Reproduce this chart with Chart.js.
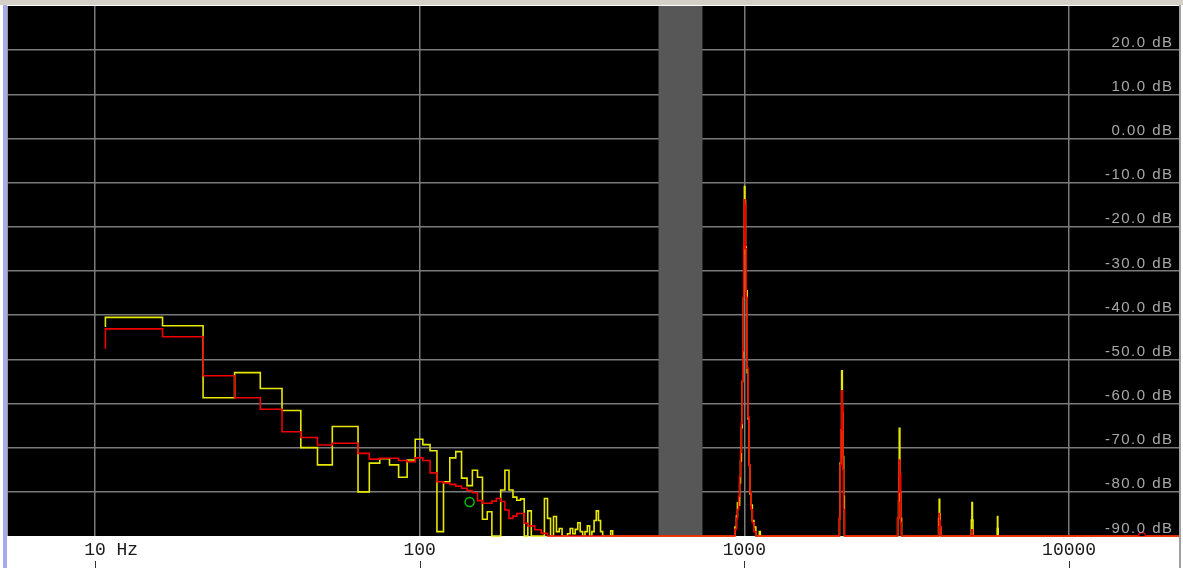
<!DOCTYPE html>
<html>
<head>
<meta charset="utf-8">
<script src="https://cdn.jsdelivr.net/npm/chart.js@4/dist/chart.umd.min.js"></script>
<style>
  html, body { margin: 0; padding: 0; background: #fff; overflow: hidden; }
  #wrap { position: relative; width: 1183px; height: 568px; }
  #topbar { position: absolute; left: 0; top: 0; width: 1183px; height: 5px; background: #d4d0c8; }
  #leftbar { position: absolute; left: 3px; top: 5px; width: 4px; height: 563px; background: #a8a8ee; }
  #rightbar { position: absolute; left: 1179px; top: 5px; width: 2px; height: 563px; background: #a0a0a0; z-index: 2; }
  #spectrum { position: absolute; left: 0; top: 0; z-index: 1; }
</style>
</head>
<body>
<div id="wrap">
  <div id="topbar"></div>
  <div id="leftbar"></div>
  <canvas id="spectrum" width="1183" height="568"></canvas>
  <div id="rightbar"></div>
</div>
<script>
// axis range (Hz / dB)
const xMinHz = 5.383;
const xMaxHz = 22050;
const yMinDb = -90;
const yMaxDb = 30;

// grid / tick labels
const xTickHz = [10, 100, 1000, 10000];
const xTickLabels = ['10 Hz', '100', '1000', '10000'];
const yGridDb = [30, 20, 10, 0, -10, -20, -30, -40, -50, -60, -70, -80, -90];
const yTickDb = [20, 10, 0, -10, -20, -30, -40, -50, -60, -70, -80, -90];
const yTickLabels = ['20.0 dB', '10.0 dB', '0.00 dB', '-10.0 dB', '-20.0 dB', '-30.0 dB',
  '-40.0 dB', '-50.0 dB', '-60.0 dB', '-70.0 dB', '-80.0 dB', '-90.0 dB'];

// shaded band
const bandHz = [544, 743];

// low frequency FFT bins (left edge of each bin)
const lowHz = [10.77, 10.77, 16.15, 21.53, 26.92, 32.30, 37.68, 43.06, 48.45, 53.83, 59.21,
  64.60, 69.98, 75.36, 80.75, 86.13, 91.51, 96.89, 102.28, 107.66, 113.04, 118.43, 123.81,
  129.19, 134.58, 139.96, 145.34, 150.72, 156.11, 161.49, 166.87, 172.26, 177.64, 183.02,
  188.41, 193.79, 199.17, 204.55, 209.94, 215.32, 220.70, 226.09, 231.47, 236.85, 242.24,
  247.62, 253.00, 258.38, 263.77, 269.15, 274.53, 279.92, 285.30, 290.68, 296.07, 301.45,
  306.83, 312.21, 317.60, 322.98, 328.36, 333.75, 339.13, 344.51, 349.90, 355.28, 360.66,
  366.04, 371.43, 376.81, 382.19, 387.58, 392.96, 398.34];

const yellowLowDb = [-42.7, -40.5, -42.4, -58.7, -53.0, -56.6, -61.6, -70.0, -73.9, -65.2, -65.2,
  -80.0, -73.5, -72.5, -73.9, -76.7, -72.8, -68.1, -69.3, -70.7, -89.0, -77.7, -72.3,
  -70.9, -76.9, -78.6, -75.1, -76.7, -86.2, -84.5, -90, -90, -79.6, -75.1,
  -79.6, -81.2, -81.9, -81.6, -90, -84.3, -90, -90, -90, -90, -81.5,
  -86, -90, -85.6, -89, -88.3, -90, -90, -89.5, -88.3, -89.5, -88.5,
  -87.0, -89.0, -90, -89, -87.7, -90, -89, -86.5, -84.3, -86.5, -89,
  -90, -90, -90, -90, -88.8, -90, -90];

const redLowDb = [-47.6, -43.1, -44.9, -53.7, -58.7, -61.3, -66.4, -67.7, -69.4, -69.0, -69.0,
  -71.3, -72.6, -72.4, -72.4, -72.9, -73.2, -72.3, -72.9, -75.7, -77.7, -78.0, -78.3,
  -78.7, -79.2, -79.7, -80.2, -82.0, -82.6, -82.6, -82.1, -81.5, -82.2, -84.1,
  -86.0, -85.5, -84.9, -84.9, -87.1, -87.7, -87.7, -88.6, -88.6, -89.4, -89.4,
  -90, -90, -90, -90, -90, -90, -90, -90, -90, -90, -90,
  -90, -90, -90, -90, -90, -90, -90, -90, -90, -90, -90,
  -90, -90, -90, -90, -90, -90, -90];

// harmonics: 1k, 2k, 3k, 4k, 5k, 6k, then floor to the end
const peakHz = [925, 935, 945, 952, 960, 967, 973, 979, 985, 989, 993, 996, 1000, 1004, 1008,
  1013, 1020, 1027, 1034, 1041, 1048, 1058, 1070, 1085, 1112, 1120,
  1950, 1962, 1972, 1982, 1993, 2003, 2012, 2022, 2032,
  2945, 2965, 2985, 2999, 3012, 3030, 3048,
  3950, 3965, 3981, 3995, 4010, 4030,
  4985, 5000, 5020, 5040, 5060,
  5990, 6005, 6018, 6032, 6050,
  22050];

const yellowPeakDb = [-90, -88, -85.5, -82.5, -83, -78, -73, -65.5, -55, -49.5, -36, -26, -10.9, -14, -24.5,
  -34.5, -53, -63.5, -74, -80.5, -83, -86.5, -88, -90, -89, -90,
  -90, -86, -73.5, -66, -52.6, -62, -72, -81, -90,
  -90, -86, -82, -65.6, -80, -86, -90,
  -90, -86, -81.7, -85, -88, -90,
  -90, -86.4, -82.4, -86.4, -90,
  -90, -88.3, -85.6, -88.3, -90,
  -90];

const redPeakDb = [-90, -88.5, -86, -84, -81, -76.5, -71, -64.5, -55, -48, -36, -24, -13.9, -15, -25,
  -36, -52, -63, -74, -80, -84, -87, -89, -90, -90, -90,
  -90, -86, -74, -66, -57.1, -60.5, -75, -84, -90,
  -90, -86, -80, -72.8, -76, -87, -90,
  -90, -88, -84.9, -86.5, -88, -90,
  -90, -90, -88.6, -90, -90,
  -90, -90, -90, -90, -90,
  -90];

// cursor markers
const greenMarker = { hz: 142.5, db: -82.3 };
const redMarker = { hz: 16770, db: -90 };

const toPoints = (xs, ys) => xs.map((x, i) => ({ x: x, y: ys[i] }));

const decor = {
  id: 'decor',
  beforeDraw(chart) {
    const { ctx, chartArea: a } = chart;
    ctx.save();
    ctx.fillStyle = '#000';
    ctx.fillRect(a.left, a.top, a.right - a.left, a.bottom - a.top);
    ctx.restore();
  },
  beforeDatasetsDraw(chart) {
    const { ctx, chartArea: a } = chart;
    const x = chart.scales.x;
    const x0 = x.getPixelForValue(bandHz[0]);
    const x1 = x.getPixelForValue(bandHz[1]);
    ctx.save();
    ctx.fillStyle = '#575757';
    ctx.fillRect(x0, a.top, x1 - x0, a.bottom - a.top);
    ctx.restore();
  },
  afterDraw(chart) {
    const { ctx, chartArea: a } = chart;
    const x = chart.scales.x;
    const y = chart.scales.y;
    ctx.save();
    // dB labels inside the plot, right side, above each grid line
    ctx.font = '15px "Liberation Sans"';
    ctx.letterSpacing = '1.5px';
    ctx.fillStyle = '#a8a8a8';
    ctx.textAlign = 'right';
    ctx.textBaseline = 'alphabetic';
    yTickDb.forEach((v, i) => {
      ctx.fillText(yTickLabels[i], a.right - 7, y.getPixelForValue(v) - 3.5);
    });
    // frequency labels under the plot
    ctx.letterSpacing = '0px';
    ctx.font = '18px "Liberation Mono"';
    ctx.fillStyle = '#1a1a1a';
    ctx.textAlign = 'left';
    ctx.strokeStyle = '#333';
    ctx.lineWidth = 1;
    xTickHz.forEach((v, i) => {
      const px = x.getPixelForValue(v);
      const num = xTickLabels[i].split(' ')[0];
      const w = ctx.measureText(num).width;
      ctx.fillText(xTickLabels[i], px - w / 2, a.bottom + 19);
      ctx.beginPath();
      ctx.moveTo(Math.round(px) + 0.5, a.bottom + 25);
      ctx.lineTo(Math.round(px) + 0.5, a.bottom + 32);
      ctx.stroke();
    });
    ctx.restore();
  }
};

const gridColor = ctx => (ctx.tick && (ctx.tick.value === yMaxDb || ctx.tick.value === yMinDb))
  ? 'rgba(0,0,0,0)' : '#7a7a7a';

new Chart(document.getElementById('spectrum'), {
  type: 'line',
  data: {
    datasets: [
      {
        label: 'marker',
        data: [{ x: greenMarker.hz, y: greenMarker.db }],
        showLine: false,
        pointRadius: 4.5,
        pointBorderWidth: 1.5,
        pointBorderColor: '#00c000',
        pointBackgroundColor: 'rgba(0,0,0,0)',
        order: 1
      },
      {
        label: 'cursor',
        data: [{ x: redMarker.hz, y: redMarker.db }],
        showLine: false,
        pointRadius: 3.5,
        pointBorderWidth: 1.5,
        pointBorderColor: '#e00000',
        pointBackgroundColor: '#000',
        clip: 0,
        order: 1
      },
      {
        label: 'average',
        data: toPoints(lowHz.concat(peakHz), redLowDb.concat(redPeakDb)),
        borderColor: '#f00000',
        borderWidth: 1.6,
        pointRadius: 0,
        stepped: 'before',
        clip: { left: 0, top: 0, right: 0, bottom: 2 },
        order: 2
      },
      {
        label: 'live',
        data: toPoints(lowHz.concat(peakHz), yellowLowDb.concat(yellowPeakDb)),
        borderColor: '#e8e800',
        borderWidth: 1.6,
        pointRadius: 0,
        stepped: 'before',
        clip: { left: 0, top: 0, right: 0, bottom: 2 },
        order: 3
      }
    ]
  },
  options: {
    responsive: false,
    devicePixelRatio: 1,
    animation: false,
    events: [],
    layout: { autoPadding: false, padding: { left: 7.6, right: 2.4, top: 6, bottom: 32 } },
    plugins: { legend: { display: false }, tooltip: { enabled: false } },
    scales: {
      x: {
        type: 'logarithmic',
        min: xMinHz,
        max: xMaxHz,
        afterBuildTicks: scale => { scale.ticks = xTickHz.map(v => ({ value: v })); },
        ticks: { display: false },
        grid: { color: '#7a7a7a', lineWidth: 1.5, drawTicks: false },
        border: { display: false }
      },
      y: {
        type: 'linear',
        min: yMinDb,
        max: yMaxDb,
        afterBuildTicks: scale => { scale.ticks = yGridDb.map(v => ({ value: v })); },
        ticks: { display: false },
        grid: { color: gridColor, lineWidth: 1.5, drawTicks: false },
        border: { display: false }
      }
    }
  },
  plugins: [decor]
});
</script>
</body>
</html>
